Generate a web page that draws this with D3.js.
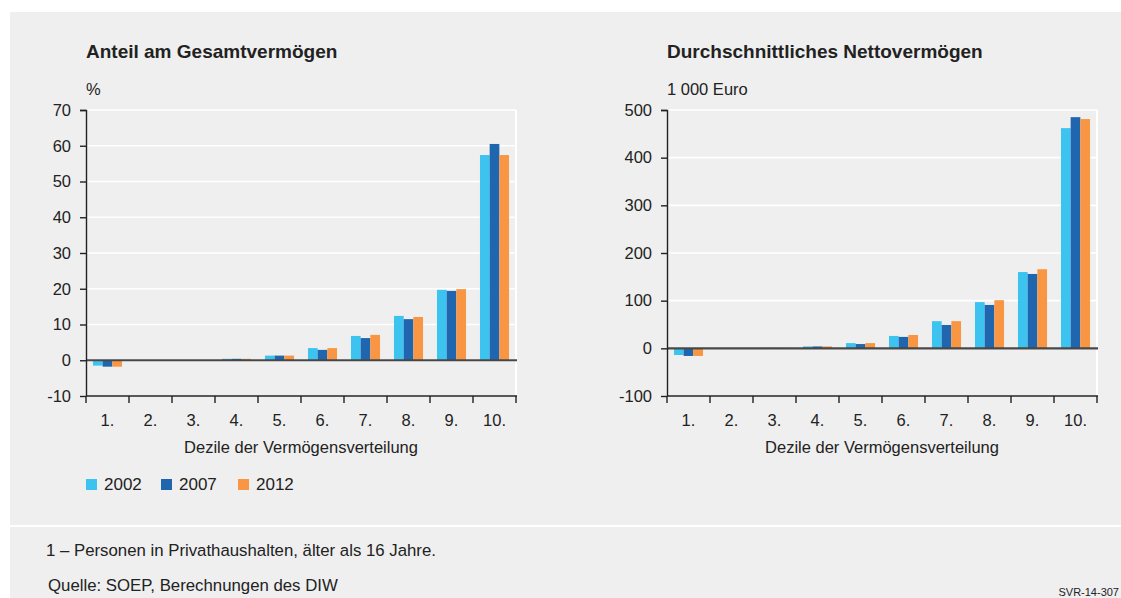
<!DOCTYPE html>
<html><head><meta charset="utf-8">
<script src="https://cdn.jsdelivr.net/npm/d3@7"></script>
<style>body{margin:0;background:#fff;overflow:hidden;} svg{display:block;} text{font-family:"Liberation Sans",Arial,sans-serif;fill:#222;}</style>
</head><body>
<script>
const deciles = ["1.","2.","3.","4.","5.","6.","7.","8.","9.","10."];
const years = ["2002","2007","2012"];
const colors = ["#3cc3f0","#1f66ae","#f89643"];
// Anteil am Gesamtvermögen (%)
const share2002 = [-1.5, 0, 0, 0.4, 1.3, 3.4, 6.8, 12.4, 19.7, 57.4];
const share2007 = [-1.8, 0, 0, 0.4, 1.3, 2.9, 6.2, 11.5, 19.4, 60.5];
const share2012 = [-1.8, 0, 0, 0.4, 1.3, 3.4, 7.1, 12.1, 19.9, 57.4];
// Durchschnittliches Nettovermögen (1 000 Euro)
const net2002 = [-14, 0, 1, 4, 11, 26, 57, 97, 160, 462];
const net2007 = [-16, 0, 1, 4, 9, 24, 49, 91, 156, 485];
const net2012 = [-16, 0, 1, 4, 11, 28, 57, 101, 166, 481];
const shareTicks = [-10,0,10,20,30,40,50,60,70];
const netTicks = [-100,0,100,200,300,400,500];

const W = 1121, H = 598;
const FS = "16.5px";
const svg = d3.select("body").append("svg").attr("width", W).attr("height", H);
svg.append("rect").attr("width", W).attr("height", H).attr("fill", "#fff");
svg.append("rect").attr("x", 10).attr("y", 12).attr("width", W-10).attr("height", 513).attr("fill", "#efefef");
svg.append("rect").attr("x", 10).attr("y", 527).attr("width", W-10).attr("height", H-527).attr("fill", "#efefef");

function drawChart(opt) {
  const g = svg.append("g");
  const x = d3.scaleBand().domain(deciles).range([opt.x0, opt.x1]).paddingInner(0).paddingOuter(0);
  const y = d3.scaleLinear().domain(opt.domain).range([396, 110]);
  const sub = d3.scaleBand().domain(years).range([0, x.bandwidth()]).paddingInner(0).paddingOuter(0.72);

  // gridlines
  g.append("g").selectAll("line").data(opt.ticks).join("line")
    .attr("x1", opt.x0).attr("x2", opt.x1).attr("y1", d => y(d)).attr("y2", d => y(d))
    .attr("stroke", "#fff").attr("stroke-width", 1.6);
  // right border
  g.append("line").attr("x1", opt.x1).attr("x2", opt.x1).attr("y1", 110).attr("y2", 396)
    .attr("stroke", "#fff").attr("stroke-width", 2);

  // bars
  const series = opt.series;
  years.forEach((yr, i) => {
    g.append("g").selectAll("rect").data(series[i]).join("rect")
      .attr("x", (d, j) => x(deciles[j]) + sub(yr))
      .attr("width", sub.bandwidth())
      .attr("y", d => y(Math.max(0, d)))
      .attr("height", d => Math.abs(y(d) - y(0)))
      .attr("fill", colors[i]);
  });

  // zero line
  g.append("line").attr("x1", opt.x0).attr("x2", opt.x1 + 1).attr("y1", y(0)).attr("y2", y(0))
    .attr("stroke", "#474747").attr("stroke-width", 2.2);

  // y axis
  const ya = d3.axisLeft(y).tickValues(opt.ticks).tickSize(6).tickPadding(9).tickFormat(d => String(d));
  const yg = g.append("g").attr("transform", `translate(${opt.x0},0)`).call(ya);
  yg.select(".domain").attr("d", `M-6,110.5H0.5V396`).attr("stroke", "#222").attr("stroke-width", 1.4);
  yg.selectAll(".tick line").attr("stroke", "#222").attr("stroke-width", 1.4);
  yg.selectAll(".tick text").style("font-size", FS).style("font-family", "'Liberation Sans',Arial,sans-serif").attr("fill", "#222");

  // x axis
  const xg = g.append("g").attr("transform", "translate(0,396)");
  xg.append("line").attr("x1", opt.x0).attr("x2", opt.x1 + 1).attr("stroke", "#222").attr("stroke-width", 1.6);
  const bounds = deciles.map(d => x(d)).concat([opt.x1]);
  xg.selectAll("line.tk").data(bounds).join("line").attr("class", "tk")
    .attr("x1", d => d).attr("x2", d => d).attr("y1", 0).attr("y2", 7)
    .attr("stroke", "#222").attr("stroke-width", 1.4);
  xg.selectAll("text").data(deciles).join("text")
    .attr("x", d => x(d) + x.bandwidth() / 2).attr("y", 30)
    .attr("text-anchor", "middle").style("font-size", FS).text(d => d);

  g.append("text").attr("x", (opt.x0 + opt.x1) / 2).attr("y", 453).attr("text-anchor", "middle")
    .style("font-size", FS).text("Dezile der Vermögensverteilung");

  g.append("text").attr("x", opt.x0).attr("y", 58).style("font-size", "19px").style("font-weight", "bold")
    .style("font-family", "'Liberation Sans Narrow','Liberation Sans',Arial,sans-serif").text(opt.title);
  g.append("text").attr("x", opt.x0).attr("y", 95).style("font-size", FS).text(opt.unit);
}

drawChart({x0: 86, x1: 516, domain: [-10, 70], ticks: shareTicks,
  series: [share2002, share2007, share2012], title: "Anteil am Gesamtvermögen", unit: "%"});
drawChart({x0: 667, x1: 1097, domain: [-100, 500], ticks: netTicks,
  series: [net2002, net2007, net2012], title: "Durchschnittliches Nettovermögen", unit: "1 000 Euro"});

// legend
const lg = svg.append("g");
const lx = [86, 161, 238];
years.forEach((yr, i) => {
  lg.append("rect").attr("x", lx[i]).attr("y", 479).attr("width", 11).attr("height", 11).attr("fill", colors[i]);
  lg.append("text").attr("x", lx[i] + 18).attr("y", 490).style("font-size", "17px").text(yr);
});

svg.append("text").attr("x", 46).attr("y", 556).style("font-size", "16.8px")
  .text("1 – Personen in Privathaushalten, älter als 16 Jahre.");
svg.append("text").attr("x", 48).attr("y", 591).style("font-size", "16.8px")
  .text("Quelle: SOEP, Berechnungen des DIW");
svg.append("text").attr("x", 1119).attr("y", 596).attr("text-anchor", "end").style("font-size", "11px")
  .text("SVR-14-307");
</script>
</body></html>
